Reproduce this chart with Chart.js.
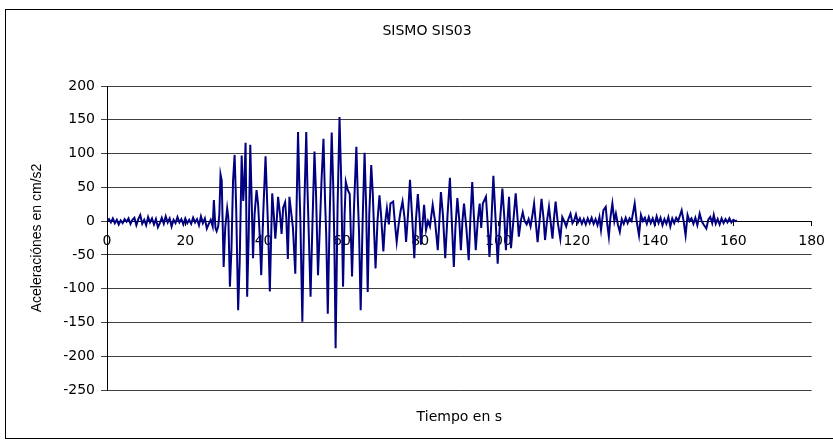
<!DOCTYPE html>
<html lang="es">
<head>
<meta charset="utf-8">
<title>SISMO SIS03</title>
<script src="https://cdn.jsdelivr.net/npm/chart.js@4.4.1/dist/chart.umd.min.js"></script>
<style>
  html, body { margin: 0; padding: 0; overflow: hidden; background: #fff; }
  /* Marco exterior del gráfico */
  #marco { position: absolute; left: 5px; top: 9px; width: 900px; height: 428px; border: 1px solid #000; }
  #contenedor { position: absolute; left: 0; top: 0; width: 833px; height: 446px; }
</style>
</head>
<body>
<div id="marco"></div>
<div id="contenedor"><canvas id="sismoChart" width="833" height="446"></canvas></div>
<script>
// Registro del sismo SIS03: tiempo (s) y aceleración (cm/s2)
const tiempos = [
  0, 0.5, 1, 1.5, 2, 2.5, 3, 3.5, 4, 4.5,
  5, 5.5, 6, 6.5, 7, 7.5, 8, 8.5, 9, 9.5,
  10, 10.5, 11, 11.5, 12, 12.5, 13, 13.5, 14, 14.5,
  15, 15.5, 16, 16.5, 17, 17.5, 18, 18.5, 19, 19.5,
  20, 20.5, 21, 21.5, 22, 22.5, 23, 23.5, 24, 24.5,
  25, 25.5, 26, 26.5, 27,
  27.3, 27.7, 28.0, 28.4, 28.7, 29.0, 29.3, 29.8, 30.2, 30.7,
  31.0, 31.4, 31.8, 32.2, 32.6, 33.0, 33.5, 33.9, 34.4, 34.8,
  35.1, 35.4, 35.8, 36.2, 36.6, 37.0, 37.3, 37.7, 38.2, 38.6,
  39.0, 39.4, 39.9, 40.5, 40.9, 41.2, 41.6, 42.2, 42.6, 43.0,
  43.4, 43.7, 44.2, 44.6, 45.0, 45.5, 45.8, 46.2, 46.6, 47.0,
  47.5, 48.1, 48.8, 49.1, 49.4, 49.9, 50.4, 50.9, 51.2, 51.6,
  52.0, 52.5, 53.0, 53.4, 53.9, 54.3, 54.8, 55.3, 55.7, 56.0,
  56.4, 56.9, 57.4, 57.8, 58.1, 58.4, 58.9, 59.4, 59.8, 60.3,
  60.7, 61.0, 61.5, 62.0, 62.6, 63.1, 63.7, 64.1, 64.4, 64.8,
  65.3, 65.8, 66.2, 66.6, 67.0, 67.5, 67.9, 68.2, 68.6, 69.1,
  69.6, 70.0, 70.6, 71.0, 71.5, 72.0, 72.4, 73.1, 73.5, 74.0,
  74.5, 75.0, 75.5, 76.0, 76.4, 76.9, 77.4, 77.8, 78.1, 78.5,
  78.9, 79.4, 79.8, 80.2, 80.6, 81.0, 81.5, 82.0, 82.5, 83.2,
  83.8, 84.5, 84.9, 85.3, 85.8, 86.4, 87.0, 87.6, 88.0, 88.6,
  89.0, 89.5, 90.0, 90.4, 90.8, 91.2, 91.8, 92.4, 92.8, 93.3,
  93.7, 94.2, 94.7, 95.2, 95.6, 96.0, 96.8, 97.2, 97.7, 98.2,
  98.7, 99.2, 99.8, 100.4, 101.0, 101.5, 101.9, 102.3, 102.7, 103.2,
  103.8, 104.4, 104.8, 105.2, 105.7, 106.2, 106.7, 107.2, 107.7, 108.2,
  108.7, 109.1, 109.5, 110.0, 110.5, 111.0, 111.5, 111.9, 112.4, 112.9,
  113.3, 113.8, 114.2, 114.6, 115.1, 115.8, 116.3, 116.8, 117.3, 117.8,
  118.4, 118.9, 119.4, 119.8, 120.3, 120.8, 121.3, 121.8, 122.3, 122.8,
  123.3, 123.8, 124.3, 124.8, 125.3, 125.8, 126.2, 126.8, 127.4, 127.8,
  128.2, 128.6, 129.1, 129.6, 130.0, 130.5, 131.0, 131.5, 132.0, 132.5,
  133.0, 133.5, 134.0, 134.8, 135.3, 135.9, 136.4, 136.9, 137.4, 137.9,
  138.4, 138.9, 139.4, 139.9, 140.4, 140.9, 141.4, 141.9, 142.4, 142.9,
  143.4, 143.9, 144.4, 144.9, 145.4, 145.9, 146.8, 147.3, 147.8, 148.3,
  148.8, 149.3, 149.8, 150.3, 150.8, 151.4, 151.9, 152.4, 153.1, 153.6,
  154.1, 154.6, 155.0, 155.5, 156.0, 156.5, 157.0, 157.5, 158.0, 158.5,
  159.0, 159.5, 160.0, 160.5, 160.9
];

const aceleraciones = [
  0, 3, -2, 4, -3, 2, -5, 1, -3, 3,
  -1, 4, -4, 2, 5, -6, 3, 9, -4, 2,
  -6, 6, -2, 4, -5, 3, -9, -3, 5, -4,
  7, -2, 4, -8, 2, -3, 6, -2, 3, -5,
  4, -3, 2, -4, 5, -2, 3, -6, 7, -3,
  4, -11, -4, 2, -8,
  31, -10, -15, -8, 10, 69, 60, -68, -10, 19,
  5, -97, -40, 60, 98, 20, -132, -60, 97, 30,
  60, 116, -112, -20, 113, 20, -55, 10, 46, 25,
  -20, -80, 10, 96, 30, -20, -104, 41, 10, -26,
  5, 36, 10, -19, 20, 28, 5, -56, 36, 15,
  -10, -78, 132, 60, 0, -149, 20, 132, 50, -30,
  -112, 0, 103, 40, -80, -20, 60, 122, 30, -20,
  -137, 10, 131, 50, -40, -188, 20, 154, 66, -97,
  10, 58, 46, 40, -82, 20, 110, 30, -20, -132,
  0, 101, 20, -105, 10, 83, 40, -10, -70, 0,
  38, 10, -45, -5, 19, -5, 26, 29, 0, -31,
  -5, 15, 29, 5, -31, 10, 61, 20, -10, -55,
  0, 40, 10, -35, -5, 24, -13, 0, -8, 24,
  0, -43, 0, 43, 10, -55, 10, 64, 10, -68,
  -10, 34, 0, -43, 0, 26, -10, -58, 0, 58,
  10, -43, 0, 26, -10, 26, 36, 0, -53, 0,
  67, 10, -63, 0, 48, 5, -43, 0, 36, -40,
  0, 41, 10, -23, 0, 13, 0, -5, 3, -8,
  10, 26, 0, -31, 0, 33, 5, -28, 0, 21,
  0, -26, 5, 29, 0, -26, 6, 0, -8, 2,
  11, -3, 2, 10, -2, 4, -4, 3, -5, 4,
  -3, 5, -4, 3, -6, 6, -13, 16, 21, -5,
  -23, 5, 26, 0, 11, -5, -16, 3, -4, 5,
  -3, 4, 0, 26, 0, -21, 9, 0, 5, -4,
  6, -3, 4, -5, 7, -3, 5, -6, 3, -4,
  6, -8, 4, -3, 5, 0, 16, 0, -21, 9,
  0, 4, -4, 5, -6, 11, 0, -5, -11, 2,
  6, -3, 9, -4, 3, -5, 4, -3, 3, -2,
  4, -2, 2, 0, 1
];

// Marcas de los ejes
const marcasX = [0, 20, 40, 60, 80, 100, 120, 140, 160, 180];
const marcasY = [200, 150, 100, 50, 0, -50, -100, -150, -200, -250];

const puntos = tiempos.map((t, i) => ({ x: t, y: aceleraciones[i] }));

const fuenteEje = { family: 'DejaVu Sans', size: 14 };

const sismoCtx = document.getElementById('sismoChart').getContext('2d');

new Chart(sismoCtx, {
    type: 'line',
    data: {
        datasets: [{
            label: 'SIS03',
            data: puntos,
            borderColor: '#000080',
            borderWidth: 2,
            pointRadius: 0,
            tension: 0,
            fill: false
        }]
    },
    options: {
        responsive: false,
        animation: false,
        devicePixelRatio: 1,
        layout: { padding: { left: 21, right: 0, top: 0, bottom: 0 } },
        plugins: {
            legend: { display: false },
            tooltip: { enabled: false },
            title: {
                display: true,
                text: 'SISMO SIS03',
                color: '#000',
                font: { family: 'DejaVu Sans', size: 14, weight: 'normal' },
                padding: { top: 22.6, bottom: 46.6 }
            }
        },
        scales: {
            // Eje del tiempo, cruzando en aceleración cero
            x: {
                type: 'linear',
                position: { y: 0 },
                min: 0,
                max: 180,
                afterBuildTicks: s => { s.ticks = marcasX.map(v => ({ value: v })); },
                grid: { drawOnChartArea: false, color: '#000', tickLength: 4 },
                border: { color: '#000', width: 1 },
                ticks: { color: '#000', font: fuenteEje, padding: 8, maxRotation: 0 }
            },
            // Solo lleva el título del eje X al pie del gráfico
            xPie: {
                type: 'linear',
                position: 'bottom',
                min: 0,
                max: 180,
                ticks: { display: false },
                grid: { display: false },
                border: { display: false },
                title: {
                    display: true,
                    text: 'Tiempo en s',
                    color: '#000',
                    font: fuenteEje,
                    padding: { top: 18.6, bottom: 20.6 }
                },
                afterFit: s => { s.height = 56; }
            },
            y: {
                type: 'linear',
                min: -250,
                max: 200,
                afterBuildTicks: s => { s.ticks = marcasY.map(v => ({ value: v })); },
                grid: { color: '#404040', tickLength: 6 },
                border: { color: '#000', width: 1 },
                ticks: { color: '#000', font: fuenteEje, padding: 6 },
                title: {
                    display: true,
                    text: 'Aceleraciónes en cm/s2',
                    color: '#000',
                    font: { family: 'Liberation Sans', size: 14 },
                    padding: { top: 8, bottom: 0 }
                },
                afterFit: s => { s.width = 86; }
            },
            // Margen derecho del área de trazado
            yDer: {
                type: 'linear',
                position: 'right',
                ticks: { display: false },
                grid: { display: false },
                border: { display: false },
                afterFit: s => { s.width = 20; }
            }
        }
    }
});
</script>
</body>
</html>
